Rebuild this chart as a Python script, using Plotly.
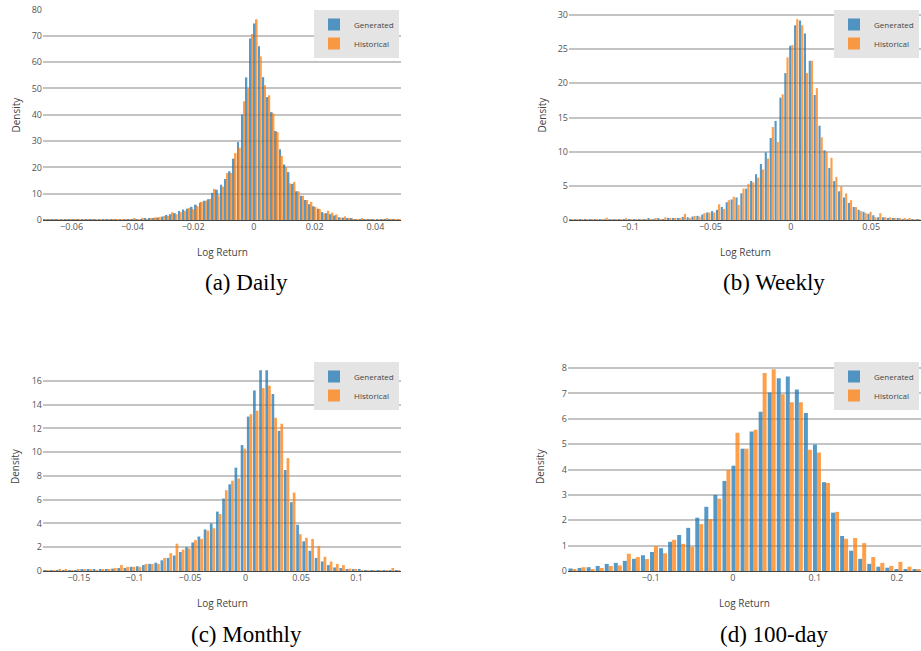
import numpy as np
import plotly.graph_objects as go

W, H = 921, 651

# ---------------- data (bin start, bin width, densities) ----------------
daily_bin_start = -0.0694
daily_bin_width = 0.001386
daily_generated = [0.1,0.1,0.1,0.1,0.1,0.1,0.1,0.1,0.1,0.1,
                   0.1,0.1,0.1,0.1,0.1,0.15,0.1,0.15,0.2,0.2,
                   0.2,0.25,0.3,0.3,0.4,0.5,0.7,0.9,1.3,1.9,
                   2.2,2.6,3.4,4.0,4.3,5.0,5.8,6.6,7.3,7.9,
                   10.3,11.5,13.4,15.6,18.5,23.3,29.6,40.1,54.2,69.0,
                   74.7,66.0,54.3,46.7,41.0,33.8,26.9,21.1,18.2,13.7,
                   10.9,9.2,7.6,6.0,5.2,4.3,3.0,2.6,2.2,1.7,
                   1.0,0.9,0.6,0.4,0.3,0.2,0.2,0.15,0.1,0.1,
                   0.1,0.05,0.05,0.05,0.05]
daily_historical = [0.1,0.05,0.1,0.1,0.05,0.1,0.1,0.1,0.05,0.1,
                    0.1,0.1,0.05,0.1,0.2,0.1,0.2,0.1,0.2,0.3,
                    0.2,0.6,0.3,0.5,0.3,0.4,1.0,1.1,1.5,1.6,
                    2.9,2.2,3.0,3.5,4.6,4.1,5.2,6.9,7.4,8.0,
                    11.8,9.4,12.7,17.8,17.9,25.4,27.5,45.1,50.0,70.7,
                    76.3,62.2,51.2,47.4,40.5,33.4,24.4,20.1,13.9,14.5,
                    10.9,9.2,7.6,6.9,4.9,4.2,2.6,3.5,2.8,2.1,
                    0.9,1.4,0.5,0.3,0.3,0.8,0.2,0.1,0.1,0.1,
                    0.1,0.6,0.1,0.1,0.1]

weekly_bin_start = -0.138
weekly_bin_width = 0.00304
weekly_generated = [0.1,0.1,0.05,0.1,0.1,0.05,0.1,0.1,0.1,0.05,
                    0.1,0.1,0.1,0.1,0.1,0.1,0.15,0.1,0.15,0.1,
                    0.3,0.3,0.2,0.45,0.4,0.5,0.6,0.8,1.1,1.3,
                    1.5,1.9,2.6,3.0,3.3,3.9,4.6,5.7,6.7,8.2,
                    9.9,12.0,14.5,17.9,21.5,25.5,28.5,29.2,27.3,23.3,
                    18.3,13.8,10.2,7.6,5.7,4.2,3.3,2.5,1.9,1.5,
                    1.2,0.9,0.7,0.4,0.4,0.25,0.2,0.2,0.1,0.1,
                    0.1,0.05]
weekly_historical = [0.05,0.1,0.1,0.05,0.1,0.1,0.05,0.35,0.1,0.05,
                     0.1,0.15,0.1,0.05,0.1,0.1,0.1,0.2,0.1,0.4,
                     0.2,0.3,0.3,0.9,0.3,0.6,0.5,1.0,1.1,1.1,
                     2.3,1.6,2.9,3.4,2.2,4.6,5.3,5.5,6.2,7.4,
                     9.0,13.6,11.4,18.4,23.8,25.6,29.4,28.5,21.5,23.3,
                     19.3,12.1,10.0,9.1,6.3,4.9,3.9,2.9,1.9,1.3,
                     1.0,1.2,0.4,1.0,0.4,0.4,0.3,0.3,0.3,0.2,
                     0.1,0.1]

monthly_bin_start = -0.1823
monthly_bin_width = 0.00555
monthly_generated = [0.05,0.05,0.05,0.05,0.05,0.05,0.1,0.1,0.1,0.1,
                     0.15,0.2,0.25,0.25,0.35,0.4,0.5,0.6,0.7,0.9,
                     1.1,1.3,1.6,2.0,2.4,2.9,3.5,4.0,5.0,6.1,
                     7.3,8.7,10.6,13.0,15.2,16.9,16.9,14.9,11.8,8.5,
                     5.8,3.9,2.5,1.7,1.1,0.8,0.5,0.3,0.25,0.15,
                     0.15,0.1,0.05,0.05,0.05,0.05,0.05,0.05]
monthly_historical = [0.05,0.05,0.15,0.1,0.05,0.1,0.1,0.1,0.05,0.1,
                      0.1,0.25,0.5,0.35,0.35,0.35,0.6,0.6,0.6,1.1,
                      1.5,2.3,1.8,1.9,2.6,2.7,3.4,3.6,4.8,6.8,
                      7.6,7.8,10.3,13.2,13.5,15.4,15.6,12.9,12.4,9.5,
                      6.6,3.1,2.8,2.7,2.1,1.2,0.8,0.6,0.5,0.2,
                      0.1,0.05,0.05,0.05,0.05,0.05,0.25,0.05]

day100_bin_start = -0.2009
day100_bin_width = 0.01104
day100_generated = [0.1,0.12,0.15,0.2,0.28,0.32,0.4,0.48,0.62,0.75,
                    0.9,1.15,1.42,1.7,2.1,2.53,3.0,3.55,4.15,4.82,
                    5.5,6.28,7.03,7.6,7.67,7.15,6.23,4.98,3.5,2.3,
                    1.38,0.8,0.48,0.28,0.17,0.13,0.08,0.05,0.04]
day100_historical = [0.05,0.15,0.08,0.12,0.2,0.22,0.68,0.55,0.47,0.98,
                     0.7,1.23,1.07,0.95,1.85,2.05,2.85,3.98,5.45,4.82,
                     5.57,7.8,7.95,6.97,6.65,6.65,4.78,4.67,3.47,2.33,
                     1.27,1.3,1.1,0.55,0.32,0.2,0.36,0.17,0.05]

series_names = ["Generated", "Historical"]
captions = ["(a) Daily", "(b) Weekly", "(c) Monthly", "(d) 100-day"]
y_dticks = [10, 5, 2, 1]
x_tickvals = [[-0.06, -0.04, -0.02, 0, 0.02, 0.04],
              [-0.1, -0.05, 0, 0.05],
              [-0.15, -0.1, -0.05, 0, 0.05, 0.1],
              [-0.1, 0, 0.1, 0.2]]

# ---------------- layout geometry (pixels) ----------------
panels = [
    dict(start=daily_bin_start, width=daily_bin_width, gen=daily_generated, hist=daily_historical,
         px=(43, 401), py=(9, 220), ytop=80.2, xr=(-0.0694, 0.0484)),
    dict(start=weekly_bin_start, width=weekly_bin_width, gen=weekly_generated, hist=weekly_historical,
         px=(569, 921), py=(9, 220), ytop=30.88, xr=(-0.138, 0.081)),
    dict(start=monthly_bin_start, width=monthly_bin_width, gen=monthly_generated, hist=monthly_historical,
         px=(43, 401), py=(361, 571), ytop=17.68, xr=(-0.1823, 0.1399)),
    dict(start=day100_bin_start, width=day100_bin_width, gen=day100_generated, hist=day100_historical,
         px=(568, 921), py=(361, 571), ytop=8.276, xr=(-0.2009, 0.2296)),
]

BLUE = "#1f77b4"
ORANGE = "#ff7f0e"
TICKFONT = dict(family="Open Sans, Arial, sans-serif", size=9, color="#555")

fig = go.Figure()
layout = dict(
    width=W, height=H, autosize=False,
    margin=dict(l=0, r=0, t=0, b=0, pad=0, autoexpand=False),
    paper_bgcolor="white", plot_bgcolor="white",
    barmode="group", bargap=0.12, bargroupgap=0,
    showlegend=True,
    font=dict(family="Open Sans, Arial, sans-serif", color="#444"),
)
annotations = []

for i, p in enumerate(panels):
    n = i + 1
    sfx = "" if n == 1 else str(n)
    xa, ya = "x" + sfx, "y" + sfx
    leg = "legend" + sfx
    centers = p["start"] + p["width"] * (np.arange(len(p["gen"])) + 0.5)
    for name, vals, col in [(series_names[0], p["gen"], BLUE), (series_names[1], p["hist"], ORANGE)]:
        fig.add_trace(go.Bar(x=centers, y=vals, name=name, xaxis=xa, yaxis=ya,
                             marker=dict(color=col, line=dict(width=0)), opacity=0.75,
                             legend=leg, showlegend=True))
    x0, x1 = p["px"]
    yt, yb = p["py"]
    layout["xaxis" + sfx] = dict(
        domain=[x0 / W, min(x1 / W, 1.0)], anchor=ya, range=list(p["xr"]),
        showgrid=False, zeroline=False, showline=False, ticks="", automargin=False,
        tickmode="array", tickvals=x_tickvals[i], tickfont=TICKFONT, fixedrange=True)
    layout["yaxis" + sfx] = dict(
        domain=[1 - yb / H, 1 - yt / H], anchor=xa, range=[0, p["ytop"]],
        showgrid=True, gridcolor="#c4c4c4", gridwidth=1.5,
        zeroline=True, zerolinecolor="#444", zerolinewidth=1, automargin=False,
        showline=False, ticks="", dtick=y_dticks[i], tick0=0, tickfont=TICKFONT,
        fixedrange=True)
    layout[leg] = dict(
        x=min((x1 - 2) / W, 1.0), xanchor="right", y=1 - (yt + 1) / H, yanchor="top",
        bgcolor="#e4e4e4", borderwidth=0,
        font=dict(family="Open Sans, Arial, sans-serif", size=8, color="#444"),
        tracegroupgap=0)
    annotations.append(dict(text="Density", x=(x0 - 28) / W, y=1 - (yt + yb) / 2 / H,
                            xref="paper", yref="paper", showarrow=False, textangle=-90,
                            font=dict(size=10, color="#444"), xanchor="center", yanchor="middle"))
    annotations.append(dict(text="Log Return", x=(x0 + x1) / 2 / W, y=1 - (yb + 32) / H,
                            xref="paper", yref="paper", showarrow=False,
                            font=dict(size=10, color="#444"), xanchor="center", yanchor="middle"))
    cx = 246 if i % 2 == 0 else 774
    annotations.append(dict(text=captions[i], x=cx / W, y=1 - (yb + 63) / H,
                            xref="paper", yref="paper", showarrow=False,
                            font=dict(family="Liberation Serif, Times New Roman, serif", size=23, color="black"),
                            xanchor="center", yanchor="middle"))

layout["annotations"] = annotations
fig.update_layout(**layout)
fig.write_html("out.html", config={"displayModeBar": False},
               post_script="document.body.style.margin='0';document.body.style.overflow='hidden';")
